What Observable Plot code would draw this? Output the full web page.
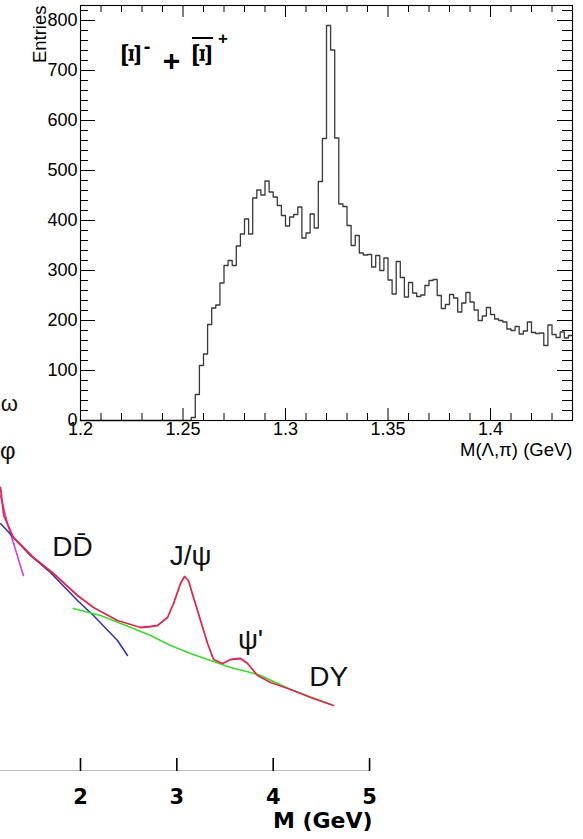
<!DOCTYPE html>
<html><head><meta charset="utf-8">
<script src="https://cdn.jsdelivr.net/npm/d3@7"></script>
<script src="https://cdn.jsdelivr.net/npm/@observablehq/plot@0.6"></script>
<style>
html,body{margin:0;padding:0;background:#fff;}
#wrap{position:relative;width:583px;height:839px;overflow:hidden;background:#fff;}
#low,#top{position:absolute;left:0;}
#low{top:390px;}
#top{top:0;}
.lbl{position:absolute;font-weight:bold;color:#000;line-height:1;white-space:nowrap;font-family:"Liberation Sans",Arial,sans-serif;}
.serif{font-family:"Liberation Serif","DejaVu Serif",serif;}
.bar{position:absolute;background:#000;}
</style></head><body>
<div id="wrap">
  <div id="low"></div>
  <div id="top"></div>
  <div class="lbl serif" style="left:131px;top:55px;font-size:28px;transform:translate(-50%,-50%) rotate(90deg) scaleX(1.35);">Ξ</div>
  <div class="lbl" style="left:147px;top:46px;font-size:20px;transform:translate(-50%,-50%);">-</div>
  <div class="lbl" style="left:171.5px;top:61px;font-size:30px;transform:translate(-50%,-50%);">+</div>
  <div class="lbl serif" style="left:202px;top:55px;font-size:28px;transform:translate(-50%,-50%) rotate(90deg) scaleX(1.35);">Ξ</div>
  <div class="bar" style="left:192px;top:37px;width:21px;height:2px;"></div>
  <div class="lbl" style="left:223px;top:38px;font-size:17px;transform:translate(-50%,-50%);">+</div>
</div>
<script>
// ---------- Top histogram: M(Λ,π), bins of 2 MeV from 1.20 to 1.44 GeV ----------
const binStart = 1.2;
const binWidth = 0.002;
const counts = [
  0,0,0,0,0,0,0,0,0,0, 0,0,0,0,0,0,0,0,0,0, 0,0,0,0,0,0,0,
  6,52,110,133,192,225,231,275,310,320,310,349,373,403,373,445,461,451,479,457,
  447,430,410,389,407,412,427,365,375,413,385,478,564,790,741,565,433,428,390,350,
  370,335,331,332,307,330,300,325,281,253,318,286,247,276,255,248,251,270,280,282,
  250,224,232,252,245,217,235,256,237,221,200,209,226,212,203,200,197,183,180,188,
  173,179,197,176,174,175,150,191,172,166,177,165,170
];
const xMajor = [1.2, 1.25, 1.3, 1.35, 1.4];
const xMinor = [1.21,1.22,1.23,1.24,1.26,1.27,1.28,1.29,1.31,1.32,1.33,1.34,1.36,1.37,1.38,1.39,1.41,1.42,1.43];
const yMajor = [0,100,200,300,400,500,600,700,800];
const yMinor = [20,40,60,80,120,140,160,180,220,240,260,280,320,340,360,380,420,440,460,480,520,540,560,580,620,640,660,680,720,740,760,780,820];

const steps = counts.map((c, i) => ({x: binStart + i * binWidth, y: c}));
steps.push({x: binStart + counts.length * binWidth, y: counts[counts.length - 1]});

const W = 583, H = 470, mL = 80, mR = 11, mT = 5, mB = 50;
const iW = W - mL - mR, iH = H - mT - mB;

const topPlot = Plot.plot({
  width: W, height: H,
  marginLeft: mL, marginRight: mR, marginTop: mT, marginBottom: mB,
  x: {domain: [1.2, 1.44], label: null},
  y: {domain: [0, 830], label: null},
  style: {background: "transparent", fontFamily: "'Liberation Sans', Arial, sans-serif", color: "black"},
  marks: [
    Plot.line(steps, {x: "x", y: "y", curve: "step-after", stroke: "#3a3a3a", strokeWidth: 1.3}),
    Plot.frame({stroke: "black", strokeWidth: 1.1}),
    Plot.tickX(xMajor, {x: d => d, insetTop: iH - 12, stroke: "black"}),
    Plot.tickX(xMinor, {x: d => d, insetTop: iH - 7, stroke: "black"}),
    Plot.tickX(xMajor, {x: d => d, insetBottom: iH - 12, stroke: "black"}),
    Plot.tickX(xMinor, {x: d => d, insetBottom: iH - 7, stroke: "black"}),
    Plot.tickY(yMajor, {y: d => d, insetRight: iW - 15, stroke: "black"}),
    Plot.tickY(yMinor, {y: d => d, insetRight: iW - 8, stroke: "black"}),
    Plot.tickY(yMajor, {y: d => d, insetLeft: iW - 15, stroke: "black"}),
    Plot.tickY(yMinor, {y: d => d, insetLeft: iW - 10, stroke: "black"}),
    Plot.axisX({ticks: xMajor, tickSize: 0, tickPadding: 2, fontSize: 18, tickFormat: d => String(d), label: null}),
    Plot.axisY({ticks: yMajor, tickSize: 0, tickPadding: 3, fontSize: 18, tickFormat: d => String(d), label: null}),
    Plot.text(["Entries"], {frameAnchor: "top-left", rotate: -90, textAnchor: "end", dx: -48, fontSize: 18.5, fill: "black"}),
    Plot.text(["M(Λ,π) (GeV)"], {frameAnchor: "bottom-right", textAnchor: "end", dy: 35, fontSize: 18.5, fill: "black"})
  ]
});
document.getElementById("top").appendChild(topPlot);

// ---------- Lower (cropped) dilepton mass spectrum ----------
const lowTicks = [2, 3, 4, 5];
const redM = [1.17,1.204,1.304,1.512,1.72,1.969,2.135,2.384,2.623,2.727,2.80,2.903,2.966,3.038,3.08,3.12,3.173,3.246,3.319,3.381,3.475,3.558,3.661,3.734,3.838,3.973,4.181,4.388,4.627];
const redY = [7.1,6.4,5.85,5.35,4.95,4.4,4.1,3.775,3.6,3.625,3.65,3.85,4.2,4.7,4.875,4.775,4.35,3.775,3.2,2.8,2.7,2.8,2.825,2.7,2.4,2.225,2.05,1.85,1.65];
const magM = [1.17,1.242,1.408];
const magY = [6.9,6.2,4.9];
const blueM = [1.17,1.304,1.48,1.688,1.969,2.135,2.384,2.488];
const blueY = [6.2,5.85,5.4,4.975,4.275,3.9,3.275,2.9];
const greenM = [1.927,2.208,2.55,2.727,2.935,3.142,3.35,3.558,3.765,3.869,4.181,4.596];
const greenY = [4.075,3.9,3.575,3.4,3.15,2.95,2.775,2.6,2.475,2.4,2.05,1.675];
const lowLabels = [
  {t: "ω", m: 1.262, y: 9.2, s: 22},
  {t: "φ", m: 1.245, y: 8.0, s: 24},
  {t: "DD\u0304", m: 1.917, y: 5.6, s: 28},
  {t: "J/ψ", m: 3.142, y: 5.375, s: 28},
  {t: "ψ'", m: 3.765, y: 3.275, s: 28},
  {t: "DY", m: 4.575, y: 2.35, s: 28}
];
const pts = (xs, ys) => xs.map((x, i) => ({x, y: ys[i]}));

const LH = 449, lmB = 68;
const lowPlot = Plot.plot({
  width: W, height: LH,
  marginLeft: 0, marginRight: 0, marginTop: 0, marginBottom: lmB,
  x: {domain: [1.17, 7.22], label: null},
  y: {domain: [0, 9.525], axis: null, label: null},
  clip: true,
  style: {background: "transparent", fontFamily: "'Liberation Sans', Arial, sans-serif", color: "black"},
  marks: [
    Plot.line(pts(magM, magY), {x: "x", y: "y", stroke: "#d040e0", strokeWidth: 1.6}),
    Plot.line(pts(blueM, blueY), {x: "x", y: "y", stroke: "#3030b0", strokeWidth: 1.5}),
    Plot.line(pts(greenM, greenY), {x: "x", y: "y", stroke: "#3ddc2c", strokeWidth: 1.8}),
    Plot.line(pts(redM, redY), {x: "x", y: "y", stroke: "#e0284f", strokeWidth: 1.8}),
    Plot.ruleY([0], {x1: 1.17, x2: lowTicks[lowTicks.length - 1], stroke: "black", strokeWidth: 1.6}),
    Plot.tickX(lowTicks, {x: d => d, insetTop: (LH - lmB) - 13, stroke: "black", strokeWidth: 1.6}),
    Plot.axisX({ticks: lowTicks, tickSize: 0, tickPadding: 18, fontSize: 21, fontWeight: "bold", fontFamily: "'DejaVu Sans', sans-serif", tickFormat: d => String(d), label: null}),
    Plot.text(["M (GeV)"], {x: lowTicks[lowTicks.length - 1], y: 0, textAnchor: "end", dy: 49, dx: 3, fontSize: 22, fontWeight: "bold", fontFamily: "'DejaVu Sans', sans-serif", fill: "black", clip: false}),
    Plot.text(lowLabels, {x: "m", y: "y", text: "t", fontSize: d => d.s, fill: "#111", clip: false})
  ]
});
document.getElementById("low").appendChild(lowPlot);
</script>
</body></html>
